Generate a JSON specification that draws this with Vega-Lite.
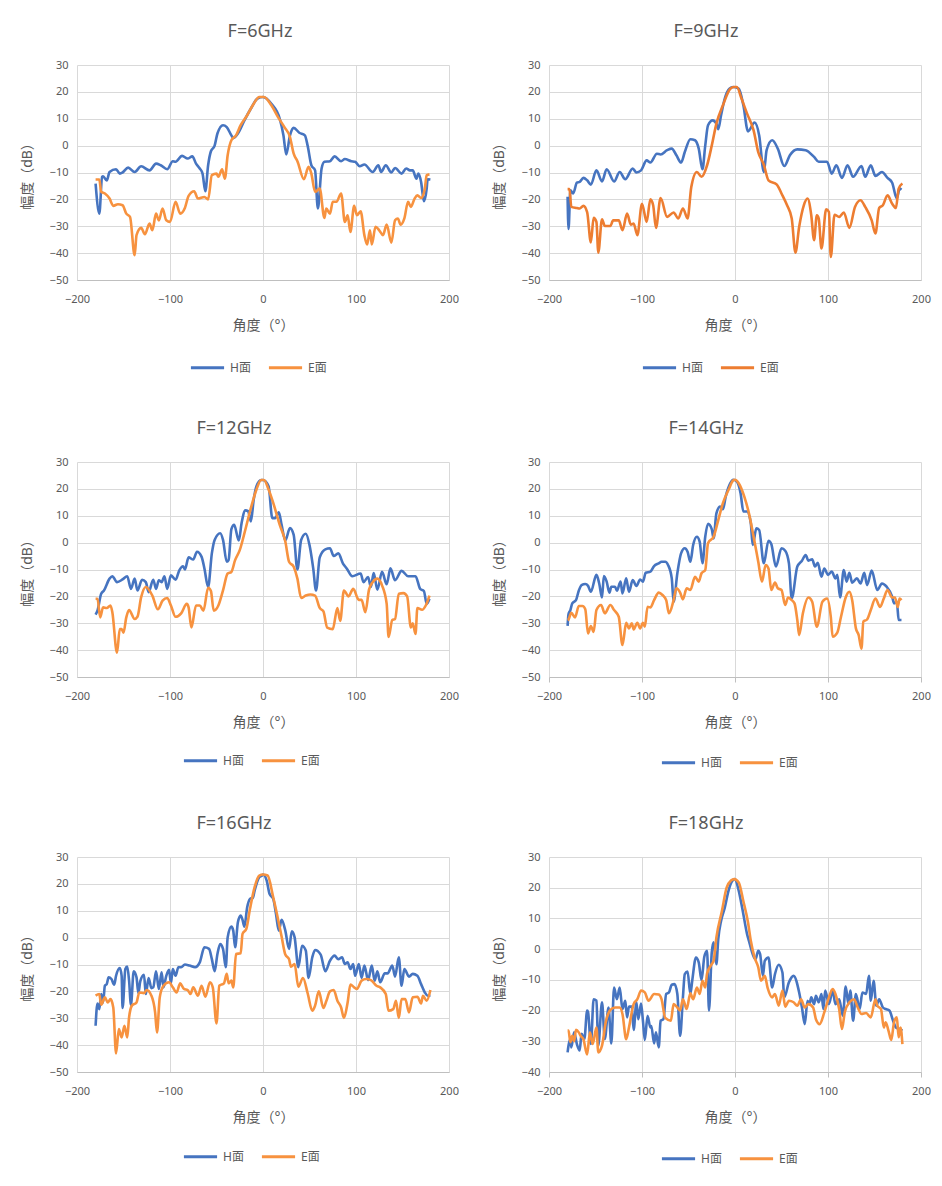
{
  "$schema": "https://vega.github.io/schema/vega-lite/v6.json",
  "background": "white",
  "padding": {"left": 20, "top": 23, "right": 3, "bottom": 3},
  "config": {
    "font": "Noto Sans, Noto Sans CJK SC",
    "view": {"stroke": null},
    "axis": {"gridColor": "#d9d9d9", "labelColor": "#595959", "titleColor": "#595959", "labelFontSize": 11, "titleFontSize": 14, "titleFontWeight": "normal", "ticks": false, "domain": false},
    "axisX": {"domain": true, "domainColor": "#bfbfbf", "labelPadding": 13, "titlePadding": 14, "labelFlush": false},
    "axisY": {"tickSize": 0, "labelPadding": 9, "titlePadding": 15},
    "title": {"fontSize": 18, "fontWeight": "normal", "color": "#595959", "offset": 18},
    "legend": {"orient": "none", "direction": "horizontal", "symbolType": "stroke", "symbolSize": 1100, "symbolStrokeWidth": 3, "labelFontSize": 12, "labelColor": "#595959", "columnPadding": 11, "labelOffset": 4}
  },
  "columns": 2,
  "spacing": {"column": 33, "row": 46},
  "resolve": {"scale": {"x": "independent", "y": "independent", "color": "independent"}, "legend": {"color": "independent"}},
  "datasets": {
    "p1": [
      {"s":"H面","a":-180,"v":-14.1},{"s":"H面","a":-176,"v":-25.3},{"s":"H面","a":-173,"v":-11.6},{"s":"H面","a":-172,"v":-11.4},{"s":"H面","a":-168,"v":-13},{"s":"H面","a":-165,"v":-9.8},{"s":"H面","a":-158,"v":-8.8},{"s":"H面","a":-154,"v":-10.4},{"s":"H面","a":-151,"v":-10},{"s":"H面","a":-145,"v":-8.2},{"s":"H面","a":-138,"v":-9.8},{"s":"H面","a":-131,"v":-7.7},{"s":"H面","a":-122,"v":-9.2},{"s":"H面","a":-115,"v":-6.7},{"s":"H面","a":-110,"v":-7.3},{"s":"H面","a":-103,"v":-8.8},{"s":"H面","a":-97,"v":-5.8},{"s":"H面","a":-94,"v":-6},{"s":"H面","a":-87,"v":-3.8},{"s":"H面","a":-81,"v":-4.8},{"s":"H面","a":-76,"v":-4},{"s":"H面","a":-72,"v":-6.7},{"s":"H面","a":-68,"v":-8.5},{"s":"H面","a":-65,"v":-10.4},{"s":"H面","a":-62,"v":-17},{"s":"H面","a":-59,"v":-7.3},{"s":"H面","a":-56,"v":-2.1},{"s":"H面","a":-52,"v":0},{"s":"H面","a":-49,"v":4.5},{"s":"H面","a":-43,"v":7.6},{"s":"H面","a":-39,"v":6.9},{"s":"H面","a":-34,"v":3.8},{"s":"H面","a":-32,"v":2.8},{"s":"H面","a":-27,"v":4.5},{"s":"H面","a":-20,"v":9.4},{"s":"H面","a":-13,"v":13.8},{"s":"H面","a":-6,"v":17.5},{"s":"H面","a":0,"v":18.1},{"s":"H面","a":9,"v":15.6},{"s":"H面","a":18,"v":10},{"s":"H面","a":22,"v":3.8},{"s":"H面","a":25,"v":-3.3},{"s":"H面","a":29,"v":3.8},{"s":"H面","a":33,"v":6.6},{"s":"H面","a":39,"v":4.8},{"s":"H面","a":45,"v":3.8},{"s":"H面","a":48,"v":0},{"s":"H面","a":52,"v":-7.3},{"s":"H面","a":56,"v":-9.2},{"s":"H面","a":59,"v":-23.4},{"s":"H面","a":63,"v":-8.5},{"s":"H面","a":66,"v":-6},{"s":"H面","a":72,"v":-5.8},{"s":"H面","a":77,"v":-4},{"s":"H面","a":84,"v":-5.8},{"s":"H面","a":88,"v":-5},{"s":"H面","a":95,"v":-5.8},{"s":"H面","a":99,"v":-6},{"s":"H面","a":104,"v":-7.7},{"s":"H面","a":109,"v":-7},{"s":"H面","a":118,"v":-9.8},{"s":"H面","a":124,"v":-7.3},{"s":"H面","a":127,"v":-9.8},{"s":"H面","a":132,"v":-7.3},{"s":"H面","a":138,"v":-10},{"s":"H面","a":142,"v":-8.3},{"s":"H面","a":149,"v":-10.4},{"s":"H面","a":154,"v":-8.5},{"s":"H面","a":158,"v":-9.2},{"s":"H面","a":161,"v":-9.2},{"s":"H面","a":165,"v":-12.3},{"s":"H面","a":167,"v":-10.4},{"s":"H面","a":170,"v":-13.5},{"s":"H面","a":173,"v":-20.7},{"s":"H面","a":176,"v":-16},{"s":"H面","a":177,"v":-12.5},{"s":"H面","a":180,"v":-12.6},
      {"s":"E面","a":-180,"v":-12.6},{"s":"E面","a":-176,"v":-12.6},{"s":"E面","a":-174,"v":-17.2},{"s":"E面","a":-170,"v":-17.8},{"s":"E面","a":-165,"v":-19.7},{"s":"E面","a":-161,"v":-22.4},{"s":"E面","a":-156,"v":-21.8},{"s":"E面","a":-151,"v":-22.2},{"s":"E面","a":-147,"v":-25.3},{"s":"E面","a":-143,"v":-26.5},{"s":"E面","a":-138,"v":-40.8},{"s":"E面","a":-136,"v":-33.3},{"s":"E面","a":-131,"v":-30.6},{"s":"E面","a":-127,"v":-33},{"s":"E面","a":-122,"v":-29},{"s":"E面","a":-119,"v":-31.5},{"s":"E面","a":-115,"v":-25.3},{"s":"E面","a":-112,"v":-27.8},{"s":"E面","a":-108,"v":-23.4},{"s":"E面","a":-104,"v":-27.8},{"s":"E面","a":-100,"v":-28.4},{"s":"E面","a":-94,"v":-20.9},{"s":"E面","a":-89,"v":-25.3},{"s":"E面","a":-84,"v":-23.2},{"s":"E面","a":-80,"v":-18.7},{"s":"E面","a":-74,"v":-17},{"s":"E面","a":-70,"v":-19.7},{"s":"E面","a":-63,"v":-19.1},{"s":"E面","a":-59,"v":-20},{"s":"E面","a":-55,"v":-11},{"s":"E面","a":-50,"v":-10.4},{"s":"E面","a":-48,"v":-11.6},{"s":"E面","a":-44,"v":-8.8},{"s":"E面","a":-41,"v":-12.3},{"s":"E面","a":-38,"v":-3.6},{"s":"E面","a":-34,"v":2},{"s":"E面","a":-29,"v":3.8},{"s":"E面","a":-24,"v":7.6},{"s":"E面","a":-17,"v":11.3},{"s":"E面","a":-10,"v":15.6},{"s":"E面","a":-4,"v":18.1},{"s":"E面","a":1,"v":18.1},{"s":"E面","a":9,"v":15},{"s":"E面","a":16,"v":10.7},{"s":"E面","a":23,"v":6.9},{"s":"E面","a":29,"v":3.2},{"s":"E面","a":33,"v":-3},{"s":"E面","a":37,"v":-5.8},{"s":"E面","a":44,"v":-12.5},{"s":"E面","a":49,"v":-7.9},{"s":"E面","a":52,"v":-10.4},{"s":"E面","a":56,"v":-17.2},{"s":"E面","a":61,"v":-16},{"s":"E面","a":66,"v":-26.9},{"s":"E面","a":68,"v":-23.4},{"s":"E面","a":72,"v":-25.3},{"s":"E面","a":75,"v":-20.9},{"s":"E面","a":79,"v":-20.9},{"s":"E面","a":84,"v":-17.8},{"s":"E面","a":88,"v":-28.4},{"s":"E面","a":91,"v":-25.9},{"s":"E面","a":94,"v":-32.1},{"s":"E面","a":98,"v":-22.4},{"s":"E面","a":101,"v":-25.9},{"s":"E面","a":105,"v":-24.4},{"s":"E面","a":109,"v":-33.3},{"s":"E面","a":112,"v":-36.8},{"s":"E面","a":115,"v":-31.5},{"s":"E面","a":117,"v":-36.8},{"s":"E面","a":121,"v":-30.2},{"s":"E面","a":125,"v":-31.5},{"s":"E面","a":129,"v":-33.3},{"s":"E面","a":133,"v":-29.4},{"s":"E面","a":138,"v":-36.1},{"s":"E面","a":142,"v":-27.8},{"s":"E面","a":145,"v":-27.1},{"s":"E面","a":148,"v":-29.4},{"s":"E面","a":152,"v":-27.1},{"s":"E面","a":156,"v":-20.9},{"s":"E面","a":159,"v":-22.8},{"s":"E面","a":163,"v":-19.7},{"s":"E面","a":166,"v":-18.5},{"s":"E面","a":170,"v":-19.5},{"s":"E面","a":174,"v":-16},{"s":"E面","a":176,"v":-11},{"s":"E面","a":179,"v":-10.7}
    ],
    "p2": [
      {"s":"H面","a":-180,"v":-19},{"s":"H面","a":-179,"v":-31},{"s":"H面","a":-177,"v":-16.6},{"s":"H面","a":-174,"v":-17.8},{"s":"H面","a":-170,"v":-13.8},{"s":"H面","a":-167,"v":-13.5},{"s":"H面","a":-163,"v":-12},{"s":"H面","a":-159,"v":-12.9},{"s":"H面","a":-155,"v":-14.5},{"s":"H面","a":-149,"v":-9.2},{"s":"H面","a":-143,"v":-13.3},{"s":"H面","a":-138,"v":-8.8},{"s":"H面","a":-130,"v":-13.3},{"s":"H面","a":-124,"v":-9.8},{"s":"H面","a":-118,"v":-12.5},{"s":"H面","a":-110,"v":-8.5},{"s":"H面","a":-106,"v":-10},{"s":"H面","a":-101,"v":-9.2},{"s":"H面","a":-95,"v":-5.5},{"s":"H面","a":-91,"v":-6.3},{"s":"H面","a":-84,"v":-3},{"s":"H面","a":-80,"v":-3.3},{"s":"H面","a":-73,"v":-1.7},{"s":"H面","a":-68,"v":-1.1},{"s":"H面","a":-63,"v":-3.6},{"s":"H面","a":-58,"v":-6.3},{"s":"H面","a":-54,"v":-2.4},{"s":"H面","a":-48,"v":2.4},{"s":"H面","a":-43,"v":2},{"s":"H面","a":-39,"v":-1.1},{"s":"H面","a":-35,"v":-8.8},{"s":"H面","a":-32,"v":0},{"s":"H面","a":-29,"v":7.6},{"s":"H面","a":-24,"v":9.4},{"s":"H面","a":-20,"v":8.2},{"s":"H面","a":-18,"v":6.1},{"s":"H面","a":-15,"v":11.3},{"s":"H面","a":-11,"v":17.5},{"s":"H面","a":-6,"v":21.2},{"s":"H面","a":-2,"v":21.8},{"s":"H面","a":4,"v":21.2},{"s":"H面","a":9,"v":15},{"s":"H面","a":14,"v":5.3},{"s":"H面","a":21,"v":8.6},{"s":"H面","a":26,"v":3.8},{"s":"H面","a":31,"v":-9.8},{"s":"H面","a":34,"v":-1.7},{"s":"H面","a":40,"v":2},{"s":"H面","a":46,"v":-1.1},{"s":"H面","a":53,"v":-7.6},{"s":"H面","a":59,"v":-3.6},{"s":"H面","a":67,"v":-1.4},{"s":"H面","a":76,"v":-1.7},{"s":"H面","a":85,"v":-4.2},{"s":"H面","a":90,"v":-6},{"s":"H面","a":99,"v":-6},{"s":"H面","a":104,"v":-10.4},{"s":"H面","a":109,"v":-7.3},{"s":"H面","a":115,"v":-12},{"s":"H面","a":121,"v":-7.3},{"s":"H面","a":127,"v":-11.6},{"s":"H面","a":136,"v":-7.6},{"s":"H面","a":140,"v":-11.6},{"s":"H面","a":146,"v":-7.3},{"s":"H面","a":151,"v":-11.3},{"s":"H面","a":158,"v":-9.8},{"s":"H面","a":164,"v":-12},{"s":"H面","a":169,"v":-13.8},{"s":"H面","a":174,"v":-19.7},{"s":"H面","a":177,"v":-16},{"s":"H面","a":179,"v":-16.4},
      {"s":"E面","a":-180,"v":-16.2},{"s":"E面","a":-178,"v":-16.2},{"s":"E面","a":-176,"v":-22.8},{"s":"E面","a":-170,"v":-23.2},{"s":"E面","a":-167,"v":-23.4},{"s":"E面","a":-163,"v":-22.4},{"s":"E面","a":-159,"v":-24.7},{"s":"E面","a":-155,"v":-36},{"s":"E面","a":-152,"v":-26.9},{"s":"E面","a":-149,"v":-28.4},{"s":"E面","a":-147,"v":-39.8},{"s":"E面","a":-143,"v":-27.4},{"s":"E面","a":-140,"v":-29.9},{"s":"E面","a":-134,"v":-29.9},{"s":"E面","a":-131,"v":-27.8},{"s":"E面","a":-125,"v":-27.8},{"s":"E面","a":-121,"v":-31.5},{"s":"E面","a":-116,"v":-25.3},{"s":"E面","a":-112,"v":-29.4},{"s":"E面","a":-109,"v":-29},{"s":"E面","a":-105,"v":-33.3},{"s":"E面","a":-100,"v":-21.6},{"s":"E面","a":-95,"v":-28.4},{"s":"E面","a":-91,"v":-20},{"s":"E面","a":-88,"v":-22.2},{"s":"E面","a":-85,"v":-30.6},{"s":"E面","a":-80,"v":-19.5},{"s":"E面","a":-73,"v":-26.5},{"s":"E面","a":-66,"v":-24.9},{"s":"E面","a":-61,"v":-27.1},{"s":"E面","a":-56,"v":-23.4},{"s":"E面","a":-51,"v":-27.1},{"s":"E面","a":-47,"v":-15.4},{"s":"E面","a":-41,"v":-9.8},{"s":"E面","a":-36,"v":-11.6},{"s":"E面","a":-30,"v":-7.3},{"s":"E面","a":-25,"v":0},{"s":"E面","a":-20,"v":8.2},{"s":"E面","a":-13,"v":15},{"s":"E面","a":-5,"v":21.2},{"s":"E面","a":-1,"v":21.8},{"s":"E面","a":2,"v":21.8},{"s":"E面","a":7,"v":17.5},{"s":"E面","a":13,"v":11.9},{"s":"E面","a":20,"v":5.7},{"s":"E面","a":25,"v":-2.4},{"s":"E面","a":31,"v":-7.1},{"s":"E面","a":36,"v":-12.9},{"s":"E面","a":45,"v":-14.5},{"s":"E面","a":50,"v":-17.8},{"s":"E面","a":56,"v":-22.2},{"s":"E面","a":61,"v":-27.1},{"s":"E面","a":65,"v":-39.8},{"s":"E面","a":69,"v":-30.2},{"s":"E面","a":74,"v":-22.2},{"s":"E面","a":78,"v":-19.7},{"s":"E面","a":82,"v":-25.9},{"s":"E面","a":85,"v":-35.2},{"s":"E面","a":88,"v":-25.9},{"s":"E面","a":90,"v":-27.1},{"s":"E面","a":93,"v":-38.3},{"s":"E面","a":98,"v":-23.7},{"s":"E面","a":101,"v":-24.7},{"s":"E面","a":103,"v":-41.4},{"s":"E面","a":107,"v":-25.7},{"s":"E面","a":112,"v":-26.5},{"s":"E面","a":117,"v":-24.9},{"s":"E面","a":123,"v":-30.6},{"s":"E面","a":129,"v":-22.8},{"s":"E面","a":135,"v":-20.3},{"s":"E面","a":140,"v":-22.8},{"s":"E面","a":147,"v":-27.8},{"s":"E面","a":151,"v":-32.7},{"s":"E面","a":155,"v":-23.2},{"s":"E面","a":159,"v":-22.2},{"s":"E面","a":164,"v":-18.5},{"s":"E面","a":169,"v":-21.6},{"s":"E面","a":173,"v":-23.2},{"s":"E面","a":176,"v":-16},{"s":"E面","a":180,"v":-14.1}
    ],
    "p3": [
      {"s":"H面","a":-180,"v":-26.8},{"s":"H面","a":-178,"v":-25.3},{"s":"H面","a":-174,"v":-19},{"s":"H面","a":-171,"v":-17.8},{"s":"H面","a":-165,"v":-13.4},{"s":"H面","a":-162,"v":-12.5},{"s":"H面","a":-157,"v":-14.7},{"s":"H面","a":-151,"v":-13.7},{"s":"H面","a":-146,"v":-12.5},{"s":"H面","a":-142,"v":-17.2},{"s":"H面","a":-138,"v":-13.4},{"s":"H面","a":-135,"v":-17.8},{"s":"H面","a":-130,"v":-13.8},{"s":"H面","a":-126,"v":-14.7},{"s":"H面","a":-123,"v":-18.4},{"s":"H面","a":-118,"v":-13.8},{"s":"H面","a":-115,"v":-17.2},{"s":"H面","a":-112,"v":-14},{"s":"H面","a":-109,"v":-14.7},{"s":"H面","a":-106,"v":-12.5},{"s":"H面","a":-103,"v":-17.2},{"s":"H面","a":-99,"v":-12.2},{"s":"H面","a":-94,"v":-13.8},{"s":"H面","a":-90,"v":-10.3},{"s":"H面","a":-86,"v":-8.8},{"s":"H面","a":-84,"v":-10},{"s":"H面","a":-80,"v":-5.5},{"s":"H面","a":-75,"v":-6.3},{"s":"H面","a":-71,"v":-3.4},{"s":"H面","a":-66,"v":-5.3},{"s":"H面","a":-63,"v":-9.6},{"s":"H面","a":-59,"v":-16.5},{"s":"H面","a":-55,"v":-4},{"s":"H面","a":-52,"v":1},{"s":"H面","a":-46,"v":3.5},{"s":"H面","a":-43,"v":1},{"s":"H面","a":-39,"v":-7.1},{"s":"H面","a":-37,"v":-6.5},{"s":"H面","a":-34,"v":5},{"s":"H面","a":-31,"v":6.6},{"s":"H面","a":-26,"v":0.8},{"s":"H面","a":-23,"v":7.3},{"s":"H面","a":-19,"v":12},{"s":"H面","a":-16,"v":11.7},{"s":"H面","a":-13,"v":7.9},{"s":"H面","a":-10,"v":16},{"s":"H面","a":-7,"v":21},{"s":"H面","a":-2,"v":23.3},{"s":"H面","a":0,"v":23.3},{"s":"H面","a":6,"v":21},{"s":"H面","a":10,"v":9.1},{"s":"H面","a":13,"v":9.1},{"s":"H面","a":17,"v":11.3},{"s":"H面","a":20,"v":6.6},{"s":"H面","a":24,"v":0.8},{"s":"H面","a":29,"v":5.4},{"s":"H面","a":33,"v":2.9},{"s":"H面","a":37,"v":-10},{"s":"H面","a":41,"v":1},{"s":"H面","a":46,"v":3.3},{"s":"H面","a":50,"v":-0.9},{"s":"H面","a":54,"v":-9.6},{"s":"H面","a":57,"v":-17.8},{"s":"H面","a":61,"v":-5.5},{"s":"H面","a":67,"v":-2.5},{"s":"H面","a":72,"v":-2.1},{"s":"H面","a":76,"v":-5},{"s":"H面","a":81,"v":-4},{"s":"H面","a":86,"v":-7.8},{"s":"H面","a":90,"v":-9.6},{"s":"H面","a":96,"v":-12.5},{"s":"H面","a":105,"v":-11.5},{"s":"H面","a":108,"v":-14.7},{"s":"H面","a":113,"v":-12.8},{"s":"H面","a":116,"v":-16.5},{"s":"H面","a":119,"v":-11.3},{"s":"H面","a":123,"v":-17.5},{"s":"H面","a":128,"v":-10.9},{"s":"H面","a":133,"v":-15.5},{"s":"H面","a":137,"v":-9.6},{"s":"H面","a":142,"v":-14},{"s":"H面","a":149,"v":-10.5},{"s":"H面","a":156,"v":-12.5},{"s":"H面","a":164,"v":-12.5},{"s":"H面","a":169,"v":-17.2},{"s":"H面","a":173,"v":-18},{"s":"H面","a":176,"v":-22.8},{"s":"H面","a":179,"v":-20.9},
      {"s":"E面","a":-180,"v":-20.9},{"s":"E面","a":-178,"v":-20.9},{"s":"E面","a":-175,"v":-27.8},{"s":"E面","a":-172,"v":-24.1},{"s":"E面","a":-168,"v":-24.3},{"s":"E面","a":-164,"v":-23.4},{"s":"E面","a":-162,"v":-25.9},{"s":"E面","a":-157,"v":-41},{"s":"E面","a":-154,"v":-32.2},{"s":"E面","a":-152,"v":-32.2},{"s":"E面","a":-150,"v":-33.5},{"s":"E面","a":-147,"v":-27.8},{"s":"E面","a":-144,"v":-25.1},{"s":"E面","a":-138,"v":-28.4},{"s":"E面","a":-135,"v":-27.6},{"s":"E面","a":-131,"v":-20.3},{"s":"E面","a":-126,"v":-16.5},{"s":"E面","a":-119,"v":-19.7},{"s":"E面","a":-113,"v":-24.8},{"s":"E面","a":-108,"v":-21.6},{"s":"E面","a":-103,"v":-20.6},{"s":"E面","a":-99,"v":-23.4},{"s":"E面","a":-94,"v":-27.6},{"s":"E面","a":-88,"v":-26.3},{"s":"E面","a":-82,"v":-22.8},{"s":"E面","a":-80,"v":-24.1},{"s":"E面","a":-77,"v":-31.6},{"s":"E面","a":-72,"v":-23.4},{"s":"E面","a":-68,"v":-23.4},{"s":"E面","a":-64,"v":-25.3},{"s":"E面","a":-59,"v":-16.8},{"s":"E面","a":-56,"v":-18},{"s":"E面","a":-53,"v":-25.3},{"s":"E面","a":-48,"v":-23.4},{"s":"E面","a":-43,"v":-17.8},{"s":"E面","a":-38,"v":-11.5},{"s":"E面","a":-34,"v":-10.9},{"s":"E面","a":-30,"v":-6.5},{"s":"E面","a":-25,"v":-2.8},{"s":"E面","a":-19,"v":4.8},{"s":"E面","a":-13,"v":12.9},{"s":"E面","a":-7,"v":19.8},{"s":"E面","a":-2,"v":23.3},{"s":"E面","a":1,"v":23.3},{"s":"E面","a":6,"v":19.8},{"s":"E面","a":11,"v":14.8},{"s":"E面","a":18,"v":6.6},{"s":"E面","a":24,"v":0.4},{"s":"E面","a":28,"v":-7.1},{"s":"E面","a":33,"v":-9},{"s":"E面","a":37,"v":-13.4},{"s":"E面","a":41,"v":-20.6},{"s":"E面","a":46,"v":-19.7},{"s":"E面","a":51,"v":-19.3},{"s":"E面","a":56,"v":-19.7},{"s":"E面","a":61,"v":-24.3},{"s":"E面","a":65,"v":-25.6},{"s":"E面","a":69,"v":-31.6},{"s":"E面","a":75,"v":-32.2},{"s":"E面","a":80,"v":-24.3},{"s":"E面","a":83,"v":-29.1},{"s":"E面","a":87,"v":-17.8},{"s":"E面","a":92,"v":-20},{"s":"E面","a":97,"v":-17.2},{"s":"E面","a":103,"v":-21.3},{"s":"E面","a":106,"v":-21.3},{"s":"E面","a":110,"v":-25.9},{"s":"E面","a":114,"v":-17.5},{"s":"E面","a":118,"v":-14.7},{"s":"E面","a":123,"v":-13.4},{"s":"E面","a":128,"v":-15.9},{"s":"E面","a":133,"v":-22.8},{"s":"E面","a":135,"v":-35.1},{"s":"E面","a":139,"v":-28.8},{"s":"E面","a":142,"v":-28.4},{"s":"E面","a":146,"v":-19},{"s":"E面","a":151,"v":-18.8},{"s":"E面","a":155,"v":-20},{"s":"E面","a":159,"v":-31.6},{"s":"E面","a":161,"v":-30},{"s":"E面","a":164,"v":-34},{"s":"E面","a":166,"v":-24.3},{"s":"E面","a":171,"v":-25},{"s":"E面","a":175,"v":-23.4},{"s":"E面","a":179,"v":-19.7}
    ],
    "p4": [
      {"s":"H面","a":-180,"v":-31},{"s":"H面","a":-179,"v":-26.6},{"s":"H面","a":-177,"v":-25.1},{"s":"H面","a":-175,"v":-22.6},{"s":"H面","a":-171,"v":-21.4},{"s":"H面","a":-168,"v":-17.9},{"s":"H面","a":-165,"v":-15.8},{"s":"H面","a":-161,"v":-15.4},{"s":"H面","a":-158,"v":-16.1},{"s":"H面","a":-155,"v":-18.3},{"s":"H面","a":-149,"v":-12},{"s":"H面","a":-146,"v":-15.2},{"s":"H面","a":-143,"v":-20.4},{"s":"H面","a":-141,"v":-12.4},{"s":"H面","a":-138,"v":-14.5},{"s":"H面","a":-135,"v":-18.6},{"s":"H面","a":-133,"v":-16.4},{"s":"H面","a":-129,"v":-16.4},{"s":"H面","a":-127,"v":-17.9},{"s":"H面","a":-123,"v":-14.5},{"s":"H面","a":-121,"v":-18.9},{"s":"H面","a":-117,"v":-13.3},{"s":"H面","a":-114,"v":-18.3},{"s":"H面","a":-110,"v":-13.9},{"s":"H面","a":-106,"v":-16.1},{"s":"H面","a":-102,"v":-13.7},{"s":"H面","a":-99,"v":-14.5},{"s":"H面","a":-96,"v":-11.2},{"s":"H面","a":-91,"v":-10.8},{"s":"H面","a":-87,"v":-8.7},{"s":"H面","a":-82,"v":-7.7},{"s":"H面","a":-79,"v":-7.1},{"s":"H面","a":-75,"v":-7.1},{"s":"H面","a":-72,"v":-8.3},{"s":"H面","a":-68,"v":-13.3},{"s":"H面","a":-66,"v":-22},{"s":"H面","a":-62,"v":-11.4},{"s":"H面","a":-58,"v":-4},{"s":"H面","a":-54,"v":-2.1},{"s":"H面","a":-51,"v":-3.4},{"s":"H面","a":-48,"v":-7.1},{"s":"H面","a":-45,"v":-0.9},{"s":"H面","a":-41,"v":2.2},{"s":"H面","a":-38,"v":0.4},{"s":"H面","a":-35,"v":-7.7},{"s":"H面","a":-32,"v":2.2},{"s":"H面","a":-29,"v":7},{"s":"H面","a":-25,"v":5},{"s":"H面","a":-23,"v":1.6},{"s":"H面","a":-20,"v":10.9},{"s":"H面","a":-16,"v":13.4},{"s":"H面","a":-13,"v":12.4},{"s":"H面","a":-10,"v":17.1},{"s":"H面","a":-5,"v":22.1},{"s":"H面","a":-2,"v":23.4},{"s":"H面","a":2,"v":22.7},{"s":"H面","a":6,"v":18.4},{"s":"H面","a":9,"v":11.6},{"s":"H面","a":13,"v":11.6},{"s":"H面","a":17,"v":7.2},{"s":"H面","a":19,"v":-0.9},{"s":"H面","a":23,"v":5.3},{"s":"H面","a":26,"v":4.7},{"s":"H面","a":31,"v":-7.7},{"s":"H面","a":36,"v":0.7},{"s":"H面","a":39,"v":-0.5},{"s":"H面","a":44,"v":-8.9},{"s":"H面","a":50,"v":-2.1},{"s":"H面","a":54,"v":-3},{"s":"H面","a":58,"v":-7.7},{"s":"H面","a":61,"v":-20.7},{"s":"H面","a":67,"v":-8.9},{"s":"H面","a":72,"v":-6.7},{"s":"H面","a":76,"v":-4.6},{"s":"H面","a":79,"v":-6.7},{"s":"H面","a":83,"v":-6.2},{"s":"H面","a":86,"v":-8.9},{"s":"H面","a":89,"v":-7.5},{"s":"H面","a":93,"v":-12.7},{"s":"H面","a":96,"v":-9.6},{"s":"H面","a":100,"v":-12},{"s":"H面","a":104,"v":-10.8},{"s":"H面","a":108,"v":-13.3},{"s":"H面","a":110,"v":-12},{"s":"H面","a":113,"v":-20.4},{"s":"H面","a":117,"v":-10.2},{"s":"H面","a":120,"v":-14.5},{"s":"H面","a":123,"v":-11.2},{"s":"H面","a":126,"v":-14.9},{"s":"H面","a":131,"v":-13.3},{"s":"H面","a":135,"v":-15.2},{"s":"H面","a":139,"v":-11.2},{"s":"H面","a":142,"v":-15.8},{"s":"H面","a":147,"v":-10.4},{"s":"H面","a":153,"v":-17.6},{"s":"H面","a":158,"v":-15.2},{"s":"H面","a":163,"v":-16.4},{"s":"H面","a":169,"v":-20.1},{"s":"H面","a":171,"v":-22.6},{"s":"H面","a":174,"v":-22},{"s":"H面","a":176,"v":-28.8},{"s":"H面","a":179,"v":-28.8},
      {"s":"E面","a":-180,"v":-28.8},{"s":"E面","a":-179,"v":-28.6},{"s":"E面","a":-176,"v":-26.1},{"s":"E面","a":-172,"v":-27.8},{"s":"E面","a":-168,"v":-23.6},{"s":"E面","a":-164,"v":-23.6},{"s":"E面","a":-161,"v":-24.8},{"s":"E面","a":-158,"v":-33.8},{"s":"E面","a":-155,"v":-31},{"s":"E面","a":-152,"v":-33.2},{"s":"E面","a":-149,"v":-25.1},{"s":"E面","a":-144,"v":-23.2},{"s":"E面","a":-140,"v":-26.3},{"s":"E面","a":-134,"v":-23.2},{"s":"E面","a":-130,"v":-25.1},{"s":"E面","a":-125,"v":-27.6},{"s":"E面","a":-121,"v":-38.1},{"s":"E面","a":-117,"v":-29.8},{"s":"E面","a":-114,"v":-31.9},{"s":"E面","a":-111,"v":-30},{"s":"E面","a":-109,"v":-32.3},{"s":"E面","a":-105,"v":-29.8},{"s":"E面","a":-102,"v":-31.9},{"s":"E面","a":-99,"v":-29.8},{"s":"E面","a":-97,"v":-31.3},{"s":"E面","a":-94,"v":-23.9},{"s":"E面","a":-91,"v":-24.1},{"s":"E面","a":-87,"v":-21.4},{"s":"E面","a":-82,"v":-18.6},{"s":"E面","a":-78,"v":-19.5},{"s":"E面","a":-74,"v":-21.4},{"s":"E面","a":-71,"v":-26.3},{"s":"E面","a":-66,"v":-21.4},{"s":"E面","a":-63,"v":-17},{"s":"E面","a":-59,"v":-18.6},{"s":"E面","a":-56,"v":-21.1},{"s":"E面","a":-52,"v":-17},{"s":"E面","a":-48,"v":-17.6},{"s":"E面","a":-43,"v":-12.7},{"s":"E面","a":-39,"v":-14.5},{"s":"E面","a":-36,"v":-11.4},{"s":"E面","a":-32,"v":-10.2},{"s":"E面","a":-29,"v":-0.2},{"s":"E面","a":-23,"v":2.2},{"s":"E面","a":-18,"v":8.4},{"s":"E面","a":-13,"v":14.7},{"s":"E面","a":-7,"v":19.6},{"s":"E面","a":-2,"v":23.1},{"s":"E面","a":0,"v":23.4},{"s":"E面","a":4,"v":22.1},{"s":"E面","a":10,"v":17.1},{"s":"E面","a":15,"v":10.9},{"s":"E面","a":20,"v":2.2},{"s":"E面","a":25,"v":-7.1},{"s":"E面","a":29,"v":-14.5},{"s":"E面","a":33,"v":-8.3},{"s":"E面","a":36,"v":-9.6},{"s":"E面","a":39,"v":-17.6},{"s":"E面","a":43,"v":-14.9},{"s":"E面","a":46,"v":-17},{"s":"E面","a":50,"v":-17.6},{"s":"E面","a":54,"v":-23.2},{"s":"E面","a":57,"v":-20.4},{"s":"E面","a":61,"v":-21.4},{"s":"E面","a":64,"v":-22.6},{"s":"E面","a":67,"v":-28.8},{"s":"E面","a":69,"v":-34.4},{"s":"E面","a":73,"v":-26.3},{"s":"E面","a":79,"v":-20.4},{"s":"E面","a":83,"v":-22},{"s":"E面","a":88,"v":-31.3},{"s":"E面","a":94,"v":-22},{"s":"E面","a":99,"v":-20.8},{"s":"E面","a":103,"v":-27.6},{"s":"E面","a":105,"v":-35},{"s":"E面","a":110,"v":-33.5},{"s":"E面","a":114,"v":-27.6},{"s":"E面","a":119,"v":-20.4},{"s":"E面","a":123,"v":-18.3},{"s":"E面","a":126,"v":-21.4},{"s":"E面","a":130,"v":-31.9},{"s":"E面","a":133,"v":-34.4},{"s":"E面","a":136,"v":-39.5},{"s":"E面","a":138,"v":-29.4},{"s":"E面","a":142,"v":-28.6},{"s":"E面","a":146,"v":-25.1},{"s":"E面","a":151,"v":-20.8},{"s":"E面","a":156,"v":-23.9},{"s":"E面","a":160,"v":-20.8},{"s":"E面","a":164,"v":-17.6},{"s":"E面","a":169,"v":-20.4},{"s":"E面","a":172,"v":-20.4},{"s":"E面","a":175,"v":-23.9},{"s":"E面","a":177,"v":-20.8},{"s":"E面","a":179,"v":-21.4}
    ],
    "p5": [
      {"s":"H面","a":-180,"v":-32.8},{"s":"H面","a":-178,"v":-24.5},{"s":"H面","a":-176,"v":-26.6},{"s":"H面","a":-174,"v":-21},{"s":"H面","a":-172,"v":-24.1},{"s":"H面","a":-170,"v":-17.9},{"s":"H面","a":-168,"v":-17.3},{"s":"H面","a":-166,"v":-14.8},{"s":"H面","a":-163,"v":-15.4},{"s":"H面","a":-160,"v":-17.5},{"s":"H面","a":-158,"v":-14.2},{"s":"H面","a":-154,"v":-11.3},{"s":"H面","a":-152,"v":-14.2},{"s":"H面","a":-151,"v":-26.2},{"s":"H面","a":-148,"v":-11.7},{"s":"H面","a":-146,"v":-10.8},{"s":"H面","a":-144,"v":-16},{"s":"H面","a":-142,"v":-25},{"s":"H面","a":-139,"v":-12.5},{"s":"H面","a":-136,"v":-14.8},{"s":"H面","a":-134,"v":-20.7},{"s":"H面","a":-132,"v":-16.3},{"s":"H面","a":-128,"v":-13.8},{"s":"H面","a":-126,"v":-21},{"s":"H面","a":-123,"v":-15},{"s":"H面","a":-120,"v":-18.8},{"s":"H面","a":-118,"v":-18.5},{"s":"H面","a":-115,"v":-12.5},{"s":"H面","a":-112,"v":-19.1},{"s":"H面","a":-109,"v":-12.9},{"s":"H面","a":-107,"v":-18.5},{"s":"H面","a":-104,"v":-14.2},{"s":"H面","a":-101,"v":-12},{"s":"H面","a":-99,"v":-17},{"s":"H面","a":-97,"v":-11.7},{"s":"H面","a":-94,"v":-14.2},{"s":"H面","a":-91,"v":-11},{"s":"H面","a":-88,"v":-11},{"s":"H面","a":-84,"v":-10},{"s":"H面","a":-79,"v":-10.4},{"s":"H面","a":-73,"v":-11},{"s":"H面","a":-68,"v":-9.2},{"s":"H面","a":-63,"v":-3.6},{"s":"H面","a":-58,"v":-4.2},{"s":"H面","a":-55,"v":-8},{"s":"H面","a":-52,"v":-12.5},{"s":"H面","a":-49,"v":-6.1},{"s":"H面","a":-46,"v":-2.4},{"s":"H面","a":-43,"v":-4.2},{"s":"H面","a":-40,"v":-11},{"s":"H面","a":-38,"v":0.1},{"s":"H面","a":-34,"v":4.1},{"s":"H面","a":-32,"v":2.6},{"s":"H面","a":-30,"v":-3.6},{"s":"H面","a":-27,"v":5.7},{"s":"H面","a":-24,"v":8.2},{"s":"H面","a":-22,"v":6.6},{"s":"H面","a":-20,"v":4.1},{"s":"H面","a":-17,"v":11.3},{"s":"H面","a":-14,"v":14.4},{"s":"H面","a":-11,"v":14.8},{"s":"H面","a":-9,"v":17.5},{"s":"H面","a":-4,"v":22.5},{"s":"H面","a":-1,"v":23.1},{"s":"H面","a":0,"v":23.5},{"s":"H面","a":4,"v":21.2},{"s":"H面","a":7,"v":16.3},{"s":"H面","a":11,"v":14.4},{"s":"H面","a":14,"v":8.8},{"s":"H面","a":17,"v":2.6},{"s":"H面","a":20,"v":6.6},{"s":"H面","a":24,"v":2.6},{"s":"H面","a":28,"v":-4.2},{"s":"H面","a":31,"v":2.4},{"s":"H面","a":34,"v":0.1},{"s":"H面","a":38,"v":-11},{"s":"H面","a":42,"v":-3},{"s":"H面","a":46,"v":-4.8},{"s":"H面","a":49,"v":-15},{"s":"H面","a":53,"v":-7.3},{"s":"H面","a":56,"v":-4.6},{"s":"H面","a":62,"v":-6.3},{"s":"H面","a":67,"v":-12.5},{"s":"H面","a":72,"v":-8.6},{"s":"H面","a":77,"v":-6.7},{"s":"H面","a":81,"v":-8},{"s":"H面","a":85,"v":-7.3},{"s":"H面","a":88,"v":-9.8},{"s":"H面","a":91,"v":-9.2},{"s":"H面","a":94,"v":-11.7},{"s":"H面","a":97,"v":-9.8},{"s":"H面","a":99,"v":-14.2},{"s":"H面","a":103,"v":-9.8},{"s":"H面","a":106,"v":-15},{"s":"H面","a":109,"v":-10.4},{"s":"H面","a":113,"v":-15.8},{"s":"H面","a":117,"v":-10.4},{"s":"H面","a":120,"v":-16},{"s":"H面","a":123,"v":-12.5},{"s":"H面","a":126,"v":-16.6},{"s":"H面","a":131,"v":-13.3},{"s":"H面","a":134,"v":-13.3},{"s":"H面","a":139,"v":-10.4},{"s":"H面","a":142,"v":-14.5},{"s":"H面","a":146,"v":-7.3},{"s":"H面","a":149,"v":-17.9},{"s":"H面","a":152,"v":-11.7},{"s":"H面","a":157,"v":-14.5},{"s":"H面","a":161,"v":-13.5},{"s":"H面","a":166,"v":-14.2},{"s":"H面","a":170,"v":-17.3},{"s":"H面","a":174,"v":-20.4},{"s":"H面","a":177,"v":-21.6},{"s":"H面","a":180,"v":-21.6},
      {"s":"E面","a":-180,"v":-21.6},{"s":"E面","a":-176,"v":-21},{"s":"E面","a":-174,"v":-25},{"s":"E面","a":-170,"v":-22.2},{"s":"E面","a":-167,"v":-24.1},{"s":"E面","a":-164,"v":-22.9},{"s":"E面","a":-161,"v":-26},{"s":"E面","a":-158,"v":-43.1},{"s":"E面","a":-155,"v":-34},{"s":"E面","a":-152,"v":-37.1},{"s":"E面","a":-149,"v":-32.8},{"s":"E面","a":-146,"v":-37.1},{"s":"E面","a":-144,"v":-29.7},{"s":"E面","a":-141,"v":-25.3},{"s":"E面","a":-136,"v":-24.1},{"s":"E面","a":-133,"v":-20.4},{"s":"E面","a":-128,"v":-20.7},{"s":"E面","a":-125,"v":-19.5},{"s":"E面","a":-120,"v":-21.6},{"s":"E面","a":-116,"v":-27.8},{"s":"E面","a":-114,"v":-35.3},{"s":"E面","a":-111,"v":-22.2},{"s":"E面","a":-107,"v":-17.9},{"s":"E面","a":-101,"v":-16.6},{"s":"E面","a":-97,"v":-18.5},{"s":"E面","a":-93,"v":-20.4},{"s":"E面","a":-89,"v":-17},{"s":"E面","a":-85,"v":-19.1},{"s":"E面","a":-81,"v":-19.5},{"s":"E面","a":-78,"v":-21},{"s":"E面","a":-75,"v":-18.5},{"s":"E面","a":-70,"v":-21.6},{"s":"E面","a":-66,"v":-17.9},{"s":"E面","a":-62,"v":-22},{"s":"E面","a":-57,"v":-16.6},{"s":"E面","a":-54,"v":-18.5},{"s":"E面","a":-50,"v":-31.9},{"s":"E面","a":-47,"v":-17.9},{"s":"E面","a":-42,"v":-17},{"s":"E面","a":-39,"v":-13.5},{"s":"E面","a":-37,"v":-17},{"s":"E面","a":-34,"v":-16},{"s":"E面","a":-32,"v":-18.5},{"s":"E面","a":-29,"v":-6.1},{"s":"E面","a":-24,"v":-5.8},{"s":"E面","a":-22,"v":1.4},{"s":"E面","a":-18,"v":3.2},{"s":"E面","a":-14,"v":10.7},{"s":"E面","a":-9,"v":18.8},{"s":"E面","a":-4,"v":23.1},{"s":"E面","a":0,"v":23.5},{"s":"E面","a":5,"v":23.1},{"s":"E面","a":11,"v":15},{"s":"E面","a":15,"v":8.8},{"s":"E面","a":20,"v":0.4},{"s":"E面","a":24,"v":-6.3},{"s":"E面","a":28,"v":-8},{"s":"E面","a":30,"v":-10.8},{"s":"E面","a":34,"v":-9.8},{"s":"E面","a":38,"v":-18.3},{"s":"E面","a":43,"v":-15},{"s":"E面","a":48,"v":-20.7},{"s":"E面","a":53,"v":-27.2},{"s":"E面","a":56,"v":-25.3},{"s":"E面","a":60,"v":-20},{"s":"E面","a":65,"v":-26.2},{"s":"E面","a":68,"v":-23.7},{"s":"E面","a":72,"v":-20},{"s":"E面","a":76,"v":-19.5},{"s":"E面","a":80,"v":-23.5},{"s":"E面","a":84,"v":-26},{"s":"E面","a":87,"v":-29.9},{"s":"E面","a":91,"v":-24.1},{"s":"E面","a":94,"v":-17.5},{"s":"E面","a":98,"v":-18.5},{"s":"E面","a":101,"v":-19.1},{"s":"E面","a":106,"v":-16},{"s":"E面","a":111,"v":-15.4},{"s":"E面","a":116,"v":-15.8},{"s":"E面","a":122,"v":-17.9},{"s":"E面","a":126,"v":-18.5},{"s":"E面","a":132,"v":-21},{"s":"E面","a":135,"v":-27.2},{"s":"E面","a":140,"v":-26.6},{"s":"E面","a":143,"v":-23.5},{"s":"E面","a":146,"v":-29.9},{"s":"E面","a":149,"v":-22.9},{"s":"E面","a":153,"v":-22.9},{"s":"E面","a":157,"v":-27.8},{"s":"E面","a":161,"v":-22.2},{"s":"E面","a":166,"v":-22},{"s":"E面","a":170,"v":-24.5},{"s":"E面","a":172,"v":-21.6},{"s":"E面","a":176,"v":-23.5},{"s":"E面","a":180,"v":-19.5}
    ],
    "p6": [
      {"s":"H面","a":-180,"v":-33.6},{"s":"H面","a":-179,"v":-31.4},{"s":"H面","a":-177,"v":-29.3},{"s":"H面","a":-176,"v":-32},{"s":"H面","a":-173,"v":-27.1},{"s":"H面","a":-170,"v":-30.9},{"s":"H面","a":-167,"v":-33},{"s":"H面","a":-165,"v":-27.6},{"s":"H面","a":-162,"v":-29.3},{"s":"H面","a":-159,"v":-20},{"s":"H面","a":-158,"v":-20.5},{"s":"H面","a":-155,"v":-30.9},{"s":"H面","a":-152,"v":-16.3},{"s":"H面","a":-149,"v":-16.8},{"s":"H面","a":-147,"v":-31.4},{"s":"H面","a":-143,"v":-17.3},{"s":"H面","a":-140,"v":-29.3},{"s":"H面","a":-136,"v":-19},{"s":"H面","a":-133,"v":-30.7},{"s":"H面","a":-130,"v":-12.5},{"s":"H面","a":-127,"v":-16.3},{"s":"H面","a":-124,"v":-12.5},{"s":"H面","a":-121,"v":-19.5},{"s":"H面","a":-118,"v":-16.8},{"s":"H面","a":-116,"v":-22.2},{"s":"H面","a":-114,"v":-18.7},{"s":"H面","a":-111,"v":-18.7},{"s":"H面","a":-109,"v":-26.3},{"s":"H面","a":-106,"v":-17.3},{"s":"H面","a":-104,"v":-22.8},{"s":"H面","a":-101,"v":-17.7},{"s":"H面","a":-99,"v":-23.3},{"s":"H面","a":-97,"v":-29.6},{"s":"H面","a":-94,"v":-21.7},{"s":"H面","a":-91,"v":-25.5},{"s":"H面","a":-90,"v":-25},{"s":"H面","a":-87,"v":-30.7},{"s":"H面","a":-85,"v":-27.1},{"s":"H面","a":-82,"v":-32},{"s":"H面","a":-80,"v":-23.3},{"s":"H面","a":-77,"v":-22.8},{"s":"H面","a":-74,"v":-14.6},{"s":"H面","a":-71,"v":-14.1},{"s":"H面","a":-68,"v":-11.6},{"s":"H面","a":-65,"v":-11.4},{"s":"H面","a":-62,"v":-14.6},{"s":"H面","a":-59,"v":-28.2},{"s":"H面","a":-56,"v":-15.7},{"s":"H面","a":-54,"v":-8.1},{"s":"H面","a":-51,"v":-7.3},{"s":"H面","a":-48,"v":-14.6},{"s":"H面","a":-46,"v":-10.3},{"s":"H面","a":-42,"v":-2.7},{"s":"H面","a":-39,"v":-4.3},{"s":"H面","a":-36,"v":-10.1},{"s":"H面","a":-33,"v":-2.5},{"s":"H面","a":-30,"v":-0.5},{"s":"H面","a":-28,"v":-20},{"s":"H面","a":-25,"v":-1.1},{"s":"H面","a":-23,"v":2.2},{"s":"H面","a":-20,"v":-4.9},{"s":"H面","a":-18,"v":3.3},{"s":"H面","a":-15,"v":9.2},{"s":"H面","a":-11,"v":13.5},{"s":"H面","a":-7,"v":19},{"s":"H面","a":-3,"v":22.2},{"s":"H面","a":0,"v":22.8},{"s":"H面","a":4,"v":19},{"s":"H面","a":8,"v":13},{"s":"H面","a":13,"v":4.9},{"s":"H面","a":15,"v":2.7},{"s":"H面","a":19,"v":-1.6},{"s":"H面","a":22,"v":-3.3},{"s":"H面","a":25,"v":-0.5},{"s":"H面","a":27,"v":-1.6},{"s":"H面","a":30,"v":-8.7},{"s":"H面","a":32,"v":-3.8},{"s":"H面","a":36,"v":-2.7},{"s":"H面","a":40,"v":-12.5},{"s":"H面","a":43,"v":-8.1},{"s":"H面","a":47,"v":-5.1},{"s":"H面","a":51,"v":-7.6},{"s":"H面","a":53,"v":-15.7},{"s":"H面","a":58,"v":-10.8},{"s":"H面","a":63,"v":-8.7},{"s":"H面","a":69,"v":-14.1},{"s":"H面","a":72,"v":-19},{"s":"H面","a":75,"v":-24.4},{"s":"H面","a":78,"v":-16.8},{"s":"H面","a":80,"v":-17.9},{"s":"H面","a":82,"v":-15.7},{"s":"H面","a":85,"v":-17.9},{"s":"H面","a":87,"v":-15.2},{"s":"H面","a":90,"v":-17.3},{"s":"H面","a":93,"v":-14.6},{"s":"H面","a":95,"v":-19.5},{"s":"H面","a":97,"v":-13.5},{"s":"H面","a":101,"v":-17.9},{"s":"H面","a":105,"v":-13.5},{"s":"H面","a":108,"v":-17.9},{"s":"H面","a":112,"v":-16.3},{"s":"H面","a":116,"v":-21.7},{"s":"H面","a":119,"v":-12.2},{"s":"H面","a":122,"v":-17.9},{"s":"H面","a":124,"v":-13.5},{"s":"H面","a":127,"v":-23.3},{"s":"H面","a":130,"v":-14.6},{"s":"H面","a":134,"v":-19.5},{"s":"H面","a":137,"v":-14.1},{"s":"H面","a":141,"v":-14.6},{"s":"H面","a":144,"v":-8.7},{"s":"H面","a":146,"v":-16.8},{"s":"H面","a":149,"v":-10.3},{"s":"H面","a":152,"v":-18.4},{"s":"H面","a":155,"v":-16.3},{"s":"H面","a":159,"v":-19},{"s":"H面","a":162,"v":-19.5},{"s":"H面","a":166,"v":-20},{"s":"H面","a":170,"v":-23.3},{"s":"H面","a":173,"v":-25.5},{"s":"H面","a":177,"v":-26},{"s":"H面","a":180,"v":-26.5},
      {"s":"E面","a":-180,"v":-26.5},{"s":"E面","a":-179,"v":-26.5},{"s":"E面","a":-177,"v":-30.3},{"s":"E面","a":-175,"v":-28.2},{"s":"E面","a":-173,"v":-30},{"s":"E面","a":-171,"v":-26.3},{"s":"E面","a":-168,"v":-27.1},{"s":"E面","a":-166,"v":-28.2},{"s":"E面","a":-163,"v":-29.3},{"s":"E面","a":-159,"v":-34.3},{"s":"E面","a":-156,"v":-27.1},{"s":"E面","a":-153,"v":-30.9},{"s":"E面","a":-149,"v":-25.5},{"s":"E面","a":-147,"v":-33.6},{"s":"E面","a":-143,"v":-31.4},{"s":"E面","a":-139,"v":-23.8},{"s":"E面","a":-134,"v":-19.8},{"s":"E面","a":-129,"v":-19},{"s":"E面","a":-124,"v":-19},{"s":"E面","a":-121,"v":-21.1},{"s":"E面","a":-117,"v":-29.3},{"s":"E面","a":-114,"v":-25.5},{"s":"E面","a":-109,"v":-17.9},{"s":"E面","a":-105,"v":-16.3},{"s":"E面","a":-101,"v":-13.5},{"s":"E面","a":-97,"v":-14.1},{"s":"E面","a":-93,"v":-16.8},{"s":"E面","a":-87,"v":-14.6},{"s":"E面","a":-82,"v":-14.8},{"s":"E面","a":-79,"v":-16.3},{"s":"E面","a":-75,"v":-22.4},{"s":"E面","a":-69,"v":-23.3},{"s":"E面","a":-66,"v":-17.9},{"s":"E面","a":-62,"v":-19},{"s":"E面","a":-59,"v":-20},{"s":"E面","a":-56,"v":-16.3},{"s":"E面","a":-52,"v":-19.5},{"s":"E面","a":-48,"v":-14.4},{"s":"E面","a":-45,"v":-16.3},{"s":"E面","a":-41,"v":-12.5},{"s":"E面","a":-38,"v":-14.6},{"s":"E面","a":-35,"v":-10.3},{"s":"E面","a":-32,"v":-12.5},{"s":"E面","a":-30,"v":-7.9},{"s":"E面","a":-25,"v":-4.9},{"s":"E面","a":-23,"v":-3.8},{"s":"E面","a":-20,"v":3.8},{"s":"E面","a":-14,"v":12.5},{"s":"E面","a":-9,"v":20},{"s":"E面","a":-4,"v":22.4},{"s":"E面","a":-1,"v":22.8},{"s":"E面","a":4,"v":21.7},{"s":"E面","a":9,"v":15.6},{"s":"E面","a":14,"v":8.7},{"s":"E面","a":17,"v":2.7},{"s":"E面","a":21,"v":-2.7},{"s":"E面","a":25,"v":-5.9},{"s":"E面","a":28,"v":-10.3},{"s":"E面","a":32,"v":-8.7},{"s":"E面","a":35,"v":-12.5},{"s":"E面","a":40,"v":-15.7},{"s":"E面","a":43,"v":-14.6},{"s":"E面","a":47,"v":-18.4},{"s":"E面","a":51,"v":-13.5},{"s":"E面","a":54,"v":-18.7},{"s":"E面","a":58,"v":-16.8},{"s":"E面","a":63,"v":-17.3},{"s":"E面","a":67,"v":-18.4},{"s":"E面","a":71,"v":-16.3},{"s":"E面","a":75,"v":-19},{"s":"E面","a":79,"v":-17.9},{"s":"E面","a":84,"v":-19},{"s":"E面","a":87,"v":-22.8},{"s":"E面","a":91,"v":-24.4},{"s":"E面","a":96,"v":-20.6},{"s":"E面","a":101,"v":-15.7},{"s":"E面","a":105,"v":-13},{"s":"E面","a":108,"v":-14.6},{"s":"E面","a":112,"v":-19.5},{"s":"E面","a":115,"v":-26},{"s":"E面","a":118,"v":-20.6},{"s":"E面","a":123,"v":-17.3},{"s":"E面","a":128,"v":-16.3},{"s":"E面","a":132,"v":-19},{"s":"E面","a":136,"v":-21.1},{"s":"E面","a":141,"v":-20.8},{"s":"E面","a":146,"v":-22.2},{"s":"E面","a":151,"v":-16.3},{"s":"E面","a":153,"v":-18.4},{"s":"E面","a":157,"v":-19.5},{"s":"E面","a":160,"v":-25.5},{"s":"E面","a":162,"v":-23.8},{"s":"E面","a":165,"v":-26.5},{"s":"E面","a":168,"v":-29.6},{"s":"E面","a":171,"v":-23.8},{"s":"E面","a":174,"v":-22.2},{"s":"E面","a":176,"v":-28.7},{"s":"E面","a":178,"v":-25.5},{"s":"E面","a":180,"v":-30.9}
    ]
  },
  "concat": [
    {
      "title": {"text": "F=6GHz", "dx": -3},
      "width": 372, "height": 215,
      "data": {"name": "p1"},
      "mark": {"type": "line", "interpolate": "monotone", "strokeWidth": 2.6},
      "encoding": {
        "x": {"field": "a", "type": "quantitative", "scale": {"domain": [-200, 200]}, "axis": {"values": [-200, -100, 0, 100, 200], "title": "角度（°）"}},
        "y": {"field": "v", "type": "quantitative", "scale": {"domain": [-50, 30]}, "axis": {"values": [-50, -40, -30, -20, -10, 0, 10, 20, 30], "title": "幅度（dB）"}},
        "color": {"field": "s", "type": "nominal", "scale": {"domain": ["H面", "E面"], "range": ["#4674C0", "#F7923F"]}, "legend": {"title": null, "legendX": 112, "legendY": 284}}
      }
    },
    {
      "title": {"text": "F=9GHz", "dx": -29},
      "width": 372, "height": 215,
      "data": {"name": "p2"},
      "mark": {"type": "line", "interpolate": "monotone", "strokeWidth": 2.6},
      "encoding": {
        "x": {"field": "a", "type": "quantitative", "scale": {"domain": [-200, 200]}, "axis": {"values": [-200, -100, 0, 100, 200], "title": "角度（°）"}},
        "y": {"field": "v", "type": "quantitative", "scale": {"domain": [-50, 30]}, "axis": {"values": [-50, -40, -30, -20, -10, 0, 10, 20, 30], "title": "幅度（dB）"}},
        "color": {"field": "s", "type": "nominal", "scale": {"domain": ["H面", "E面"], "range": ["#4674C0", "#ED7D31"]}, "legend": {"title": null, "legendX": 92, "legendY": 284}}
      }
    },
    {
      "title": {"text": "F=12GHz", "dx": -29},
      "width": 372, "height": 215,
      "data": {"name": "p3"},
      "mark": {"type": "line", "interpolate": "monotone", "strokeWidth": 2.6},
      "encoding": {
        "x": {"field": "a", "type": "quantitative", "scale": {"domain": [-200, 200]}, "axis": {"values": [-200, -100, 0, 100, 200], "title": "角度（°）"}},
        "y": {"field": "v", "type": "quantitative", "scale": {"domain": [-50, 30]}, "axis": {"values": [-50, -40, -30, -20, -10, 0, 10, 20, 30], "title": "幅度（dB）"}},
        "color": {"field": "s", "type": "nominal", "scale": {"domain": ["H面", "E面"], "range": ["#4674C0", "#F7923F"]}, "legend": {"title": null, "legendX": 105, "legendY": 280}}
      }
    },
    {
      "title": {"text": "F=14GHz", "dx": -29},
      "width": 372, "height": 215,
      "data": {"name": "p4"},
      "mark": {"type": "line", "interpolate": "monotone", "strokeWidth": 2.6},
      "encoding": {
        "x": {"field": "a", "type": "quantitative", "scale": {"domain": [-200, 200]}, "axis": {"values": [-200, -100, 0, 100, 200], "title": "角度（°）", "ticks": true, "tickColor": "#bfbfbf", "tickSize": 5, "labelPadding": 8}},
        "y": {"field": "v", "type": "quantitative", "scale": {"domain": [-50, 30]}, "axis": {"values": [-50, -40, -30, -20, -10, 0, 10, 20, 30], "title": "幅度（dB）"}},
        "color": {"field": "s", "type": "nominal", "scale": {"domain": ["H面", "E面"], "range": ["#4674C0", "#F7923F"]}, "legend": {"title": null, "legendX": 111, "legendY": 282}}
      }
    },
    {
      "title": {"text": "F=16GHz", "dx": -29},
      "width": 372, "height": 215,
      "data": {"name": "p5"},
      "mark": {"type": "line", "interpolate": "monotone", "strokeWidth": 2.6},
      "encoding": {
        "x": {"field": "a", "type": "quantitative", "scale": {"domain": [-200, 200]}, "axis": {"values": [-200, -100, 0, 100, 200], "title": "角度（°）"}},
        "y": {"field": "v", "type": "quantitative", "scale": {"domain": [-50, 30]}, "axis": {"values": [-50, -40, -30, -20, -10, 0, 10, 20, 30], "title": "幅度（dB）"}},
        "color": {"field": "s", "type": "nominal", "scale": {"domain": ["H面", "E面"], "range": ["#4674C0", "#F7923F"]}, "legend": {"title": null, "legendX": 105, "legendY": 281}}
      }
    },
    {
      "title": {"text": "F=18GHz", "dx": -29},
      "width": 372, "height": 215,
      "data": {"name": "p6"},
      "mark": {"type": "line", "interpolate": "monotone", "strokeWidth": 2.6},
      "encoding": {
        "x": {"field": "a", "type": "quantitative", "scale": {"domain": [-200, 200]}, "axis": {"values": [-200, -100, 0, 100, 200], "title": "角度（°）", "ticks": true, "tickColor": "#bfbfbf", "tickSize": 5, "labelPadding": 8}},
        "y": {"field": "v", "type": "quantitative", "scale": {"domain": [-40, 30]}, "axis": {"values": [-40, -30, -20, -10, 0, 10, 20, 30], "title": "幅度（dB）"}},
        "color": {"field": "s", "type": "nominal", "scale": {"domain": ["H面", "E面"], "range": ["#4674C0", "#F7923F"]}, "legend": {"title": null, "legendX": 111, "legendY": 283}}
      }
    }
  ]
}
